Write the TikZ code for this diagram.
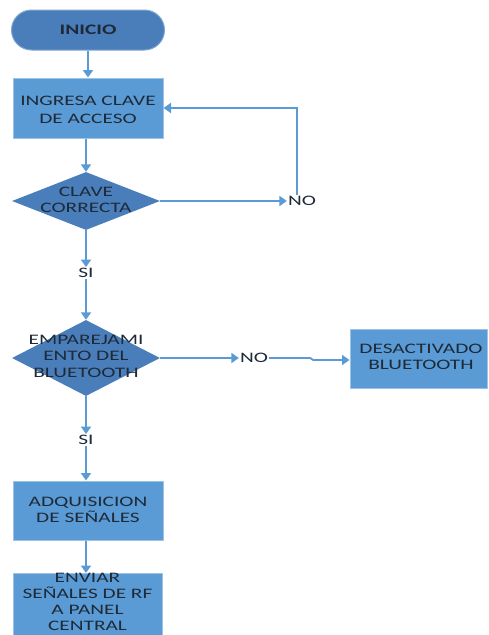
\documentclass[tikz,border=0pt]{standalone}
\usepackage{fontspec}
\setmainfont{Carlito}[FakeStretch=1.47]
\usetikzlibrary{shapes.geometric,arrows.meta}
\definecolor{boxblue}{HTML}{5B9BD5}
\definecolor{darkblue}{HTML}{4A7EBB}
\definecolor{linkblue}{HTML}{5B9BD5}
\definecolor{txt}{HTML}{1E2A38}
\tikzset{
  stepbox/.style={rectangle, fill=boxblue, draw=boxblue!60!white, line width=1pt, inner sep=0pt, align=center, text=txt, font=\fontsize{14.5}{17.5}\selectfont},
  termbox/.style={rectangle, rounded corners=20pt, fill=darkblue, draw=darkblue!70!white, line width=1pt, minimum width=153pt, minimum height=40pt, text=txt, font=\fontsize{14.5}{17.5}\selectfont\bfseries},
  decbox/.style={diamond, fill=darkblue, draw=none, inner sep=0pt},
  lbl/.style={align=center, text=txt, inner sep=1pt, font=\fontsize{14.5}{16.5}\selectfont},
  arr/.style={draw=linkblue, line width=1.8pt, -{Triangle[width=10pt,length=7.5pt]}},
  ln/.style={draw=linkblue, line width=1.8pt}
}
\begin{document}
\begin{tikzpicture}[x=1pt,y=-1pt]
\useasboundingbox (0,0) rectangle (488,635);
\clip (0,0) rectangle (488,635);
\fill[white] (0,0) rectangle (488,635);
% nodes
\node[termbox] (inicio) at (88,30) {INICIO};
\node[stepbox, minimum width=150pt, minimum height=60pt] (ingresa) at (88,108) {};
\node[lbl, font=\fontsize{14.5}{18}\selectfont] (t0) at (88,110) {INGRESA CLAVE\\DE ACCESO};
\node[decbox, minimum width=148pt, minimum height=58pt] (d1) at (86,201) {};
\node[lbl] (t1) at (86,200) {CLAVE\\CORRECTA};
\node[lbl] (no1) at (302,201) {NO};
\node[lbl] (si1) at (86,273) {SI};
\node[decbox, minimum width=148pt, minimum height=76pt] (d2) at (86,358) {};
\node[lbl] (t2) at (86,356) {EMPAREJAMI\\ENTO DEL\\BLUETOOTH};
\node[lbl] (no2) at (254,358) {NO};
\node[stepbox, minimum width=137pt, minimum height=59pt] (desact) at (418.5,358.5) {};
\node[lbl] (t4) at (421,357) {DESACTIVADO\\BLUETOOTH};
\node[lbl] (si2) at (86,440) {SI};
\node[stepbox, minimum width=150pt, minimum height=59pt] (adq) at (88,510.5) {};
\node[lbl] (t5) at (88,510) {ADQUISICION\\DE SEÑALES};
\node[stepbox, minimum width=149pt, minimum height=66pt] (enviar) at (87.5,606) {};
\node[lbl, font=\fontsize{14.5}{16}\selectfont] (t3) at (87.5,602) {ENVIAR\\SEÑALES DE RF\\A PANEL\\CENTRAL};
% connectors
\draw[arr] (inicio) -- (ingresa);
\draw[arr] (ingresa.south -| d1.north) -- (d1.north);
\draw[arr] (d1.east) -- (no1.west);
\draw[arr] ([xshift=-5pt]no1.north) |- (ingresa.east);
\draw[arr] (d1.south) -- (si1.north);
\draw[arr] (si1.south) -- (d2.north);
\draw[arr] (d2.east) -- (no2.west);
\draw[arr] (no2.east) -- ++(41,0) -- ++(3,2) -- (desact.west |- 0,360);
\draw[arr] (d2.south) -- (si2.north);
\draw[arr] (si2.south) -- (si2.south |- adq.north);
\draw[arr] (adq.south -| 86,0) -- (86,573);
\end{tikzpicture}
\end{document}
